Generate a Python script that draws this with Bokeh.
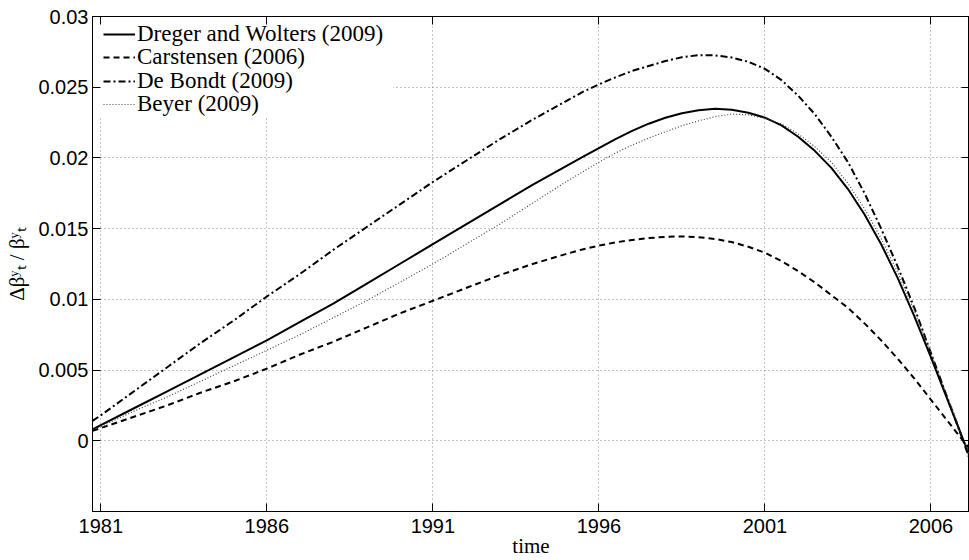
from bokeh.plotting import figure
from bokeh.models import LinearAxis, FixedTicker, Legend, LegendItem, Range1d, BoxAnnotation
from bokeh.embed import file_html
from bokeh.resources import INLINE

# ---- data ----
time = [1980.75, 1981, 1982, 1983, 1984, 1985, 1986, 1987, 1988, 1989, 1990,
        1991, 1992, 1993, 1994, 1995,
        1995.5, 1996, 1996.5, 1997, 1997.5, 1998, 1998.5, 1999, 1999.5, 2000,
        2000.5, 2001, 2001.5, 2002, 2002.5, 2003, 2003.5, 2004, 2004.5, 2005,
        2005.5, 2006, 2006.5, 2007, 2007.15]

dreger_wolters = [0.0008, 0.0011, 0.0023, 0.0035, 0.0047, 0.0059, 0.0071, 0.0084, 0.0097, 0.0111, 0.0125,
                  0.0139, 0.0153, 0.0167, 0.0181, 0.0194,
                  0.02005, 0.0207, 0.02133, 0.02191, 0.02242, 0.02284, 0.02316, 0.02337, 0.02347, 0.0234,
                  0.0232, 0.02285, 0.0223, 0.0215, 0.0205, 0.0193, 0.0178, 0.0160, 0.0139, 0.0115,
                  0.0088, 0.0059, 0.0029, -0.0001, -0.0010]

carstensen = [0.0007, 0.0009, 0.0017, 0.0025, 0.0034, 0.0042, 0.0051, 0.0061, 0.0070, 0.0080, 0.0090,
              0.0099, 0.0108, 0.0117, 0.0125, 0.0132,
              0.01353, 0.0138, 0.01403, 0.0142, 0.01433, 0.01442, 0.01445, 0.0144, 0.01427, 0.01405,
              0.01372, 0.0133, 0.0127, 0.0120, 0.0112, 0.0103, 0.0094, 0.0083, 0.0071, 0.0058,
              0.0044, 0.0029, 0.0014, -0.0001, -0.0005]

de_bondt = [0.0014, 0.0018, 0.0035, 0.0052, 0.0069, 0.0085, 0.0102, 0.0118, 0.0135, 0.0151, 0.0167,
            0.0183, 0.0198, 0.0213, 0.0227, 0.0240,
            0.02465, 0.0252, 0.0257, 0.02615, 0.0265, 0.02685, 0.02712, 0.02727, 0.02725, 0.0271,
            0.0268, 0.0263, 0.0255, 0.0244, 0.0231, 0.0215, 0.0197, 0.0175, 0.0150, 0.0123,
            0.0094, 0.0062, 0.0030, -0.0002, -0.0012]

beyer = [0.0008, 0.0010, 0.0021, 0.0031, 0.0042, 0.0053, 0.0064, 0.0075, 0.0087, 0.0099, 0.0112,
         0.0125, 0.0139, 0.0153, 0.0168, 0.0183,
         0.0190, 0.0197, 0.02035, 0.0209, 0.0214, 0.02185, 0.02228, 0.02262, 0.02292, 0.0231,
         0.02305, 0.0228, 0.0224, 0.0217, 0.0208, 0.0197, 0.0182, 0.0164, 0.0143, 0.0119,
         0.0092, 0.0062, 0.0031, 0.0000, -0.0010]

series_names = ["Dreger and Wolters (2009)", "Carstensen (2006)", "De Bondt (2009)", "Beyer (2009)"]

x_ticks = [1981, 1986, 1991, 1996, 2001, 2006]
x_tick_labels = ["1981", "1986", "1991", "1996", "2001", "2006"]
y_ticks = [0, 0.005, 0.01, 0.015, 0.02, 0.025, 0.03]
y_tick_labels = ["0", "0.005", "0.01", "0.015", "0.02", "0.025", "0.03"]

# layout constants (legend placement, not data)
LEGEND_BG = dict(left=1980.75, right=1989.8, top=0.03, bottom=0.0229)
LEGEND_ROW_Y = [464, 441, 417, 394]   # screen offsets of each legend row
LEGEND_X = 11

# ---- figure ----
p = figure(width=969, height=560, output_backend="svg", toolbar_location=None,
           x_range=Range1d(1980.75, 2007.16), y_range=Range1d(-0.005, 0.03),
           min_border_left=92, min_border_right=0, min_border_top=16, min_border_bottom=48)
p.background_fill_color = "white"
p.border_fill_color = "white"
p.outline_line_color = "black"
p.outline_line_width = 1

tick_font = "Liberation Sans"
serif = "Liberation Serif"

def style_axis(ax, ticks, labels, show_labels=True):
    ax.ticker = FixedTicker(ticks=ticks)
    ax.major_label_overrides = {t: (l if show_labels else "") for t, l in zip(ticks, labels)}
    ax.major_tick_in = 8
    ax.major_tick_out = 0
    ax.minor_tick_in = 0
    ax.minor_tick_out = 0
    ax.major_tick_line_color = "black"
    ax.axis_line_color = "black"
    ax.major_label_text_font = tick_font
    ax.major_label_text_font_size = "20px" if show_labels else "0px"
    ax.major_label_text_color = "black"

style_axis(p.xaxis[0], x_ticks, x_tick_labels)
style_axis(p.yaxis[0], y_ticks, y_tick_labels)
p.xaxis.major_label_standoff = 7
p.yaxis.major_label_standoff = 4

p.xaxis.axis_label = "time"
p.yaxis.axis_label = "Δβʸₜ / βʸₜ"
for ax in (p.xaxis[0], p.yaxis[0]):
    ax.axis_label_text_font = serif
    ax.axis_label_text_font_size = "21px"
    ax.axis_label_text_font_style = "normal"
    ax.axis_label_text_color = "black"
p.xaxis.axis_label_standoff = -2
p.yaxis.axis_label_standoff = 6

top_axis = LinearAxis()
style_axis(top_axis, x_ticks, x_tick_labels, show_labels=False)
top_axis.major_label_standoff = 0
p.add_layout(top_axis, "above")
right_axis = LinearAxis()
style_axis(right_axis, y_ticks, y_tick_labels, show_labels=False)
right_axis.major_label_standoff = 0
p.add_layout(right_axis, "right")

p.xgrid.ticker = FixedTicker(ticks=x_ticks)
p.ygrid.ticker = FixedTicker(ticks=y_ticks)
for g in (p.xgrid[0], p.ygrid[0]):
    g.grid_line_color = "#8a8a8a"
    g.grid_line_dash = "1 3"
    g.grid_line_width = 1

# white legend background hiding the grid (like MATLAB's legend box)
bg = BoxAnnotation(fill_color="white", fill_alpha=1.0, line_color=None, level="underlay", **LEGEND_BG)
p.add_layout(bg)

r1 = p.line(time, dreger_wolters, line_color="black", line_width=2)
r2 = p.line(time, carstensen, line_color="black", line_width=2, line_dash="6 4")
r3 = p.line(time, de_bondt, line_color="black", line_width=2, line_dash="7 3 2 3")
r4 = p.line(time, beyer, line_color="#444444", line_width=1.2, line_dash="1 2")

for name, r, vy in zip(series_names, [r1, r2, r3, r4], LEGEND_ROW_Y):
    lg = Legend(items=[LegendItem(label=name, renderers=[r])])
    lg.location = (LEGEND_X, vy)
    lg.margin = 0
    lg.padding = 0
    lg.spacing = 0
    lg.glyph_width = 32
    lg.label_standoff = 2
    lg.label_text_font = serif
    lg.label_text_font_size = "23px"
    lg.label_text_color = "black"
    lg.border_line_color = None
    lg.background_fill_alpha = 0.0
    p.add_layout(lg)

open("out.html", "w").write(file_html(p, INLINE))
